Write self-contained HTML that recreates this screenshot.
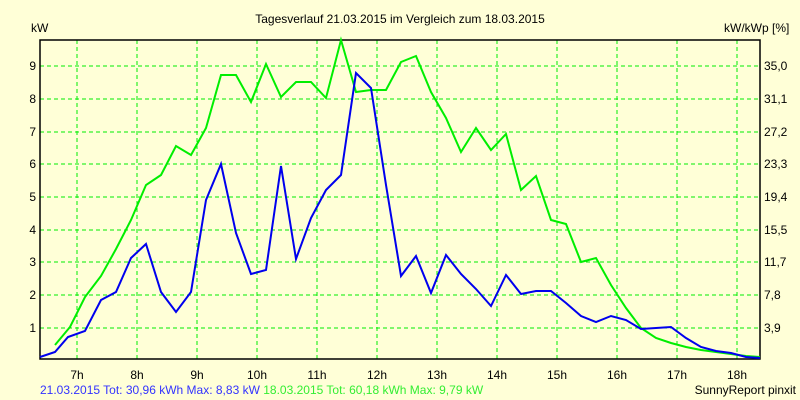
<!DOCTYPE html><html><head><style>body{margin:0;background:#ffffd7}svg{display:block}text{font-family:"Liberation Sans",sans-serif;font-size:12px}</style></head><body>
<svg width="800" height="400" xmlns="http://www.w3.org/2000/svg">
<rect width="800" height="400" fill="#ffffd7"/>
<g stroke="#00ee00" stroke-dasharray="4,3" stroke-width="1">
<line x1="40" x2="760" y1="66" y2="66"/><line x1="40" x2="760" y1="99" y2="99"/><line x1="40" x2="760" y1="132" y2="132"/><line x1="40" x2="760" y1="164" y2="164"/><line x1="40" x2="760" y1="197" y2="197"/><line x1="40" x2="760" y1="230" y2="230"/><line x1="40" x2="760" y1="262" y2="262"/><line x1="40" x2="760" y1="295" y2="295"/><line x1="40" x2="760" y1="328" y2="328"/>
<line y1="40" y2="359" x1="77" x2="77"/><line y1="40" y2="359" x1="137" x2="137"/><line y1="40" y2="359" x1="197" x2="197"/><line y1="40" y2="359" x1="257" x2="257"/><line y1="40" y2="359" x1="317" x2="317"/><line y1="40" y2="359" x1="377" x2="377"/><line y1="40" y2="359" x1="437" x2="437"/><line y1="40" y2="359" x1="497" x2="497"/><line y1="40" y2="359" x1="557" x2="557"/><line y1="40" y2="359" x1="617" x2="617"/><line y1="40" y2="359" x1="677" x2="677"/><line y1="40" y2="359" x1="737" x2="737"/>
</g>
<rect x="40" y="40" width="720" height="319" fill="none" stroke="#000" stroke-width="1.5"/>
<polyline fill="none" stroke="#00ee00" stroke-width="2" points="55,345 70,327 85,297 101,276 116,249 131,220 146,185 161,175 176,146 191,155 206,128 221,75 236,75 251,102 266,64 281,97 296,82 311,82 326,98 341,40 356,92 371,90 386,90 401,62 416,56 431,92 446,118 461,152 476,128 491,150 506,134 521,190 536,176 551,220 566,224 581,262 596,258 611,285 626,308 641,328 656,338 671,343 686,347 701,350 716,352 731,354 746,356 760,357"/>
<polyline fill="none" stroke="#0000ee" stroke-width="2" points="40,357 55,352 68,337 85,331 101,300 116,292 131,258 146,244 161,292 176,312 191,292 206,200 221,164 236,233 251,274 266,270 281,166 296,259 311,218 326,190 341,175 356,73 371,88 386,185 401,276 416,256 431,293 446,255 461,274 476,289 491,306 506,275 521,294 536,291 551,291 566,303 581,316 596,322 611,316 626,320 641,329 656,328 671,327 686,338 701,347 716,351 731,353 746,357 760,358"/>
<g fill="#000" text-anchor="end"><text x="36" y="70">9</text><text x="36" y="103">8</text><text x="36" y="136">7</text><text x="36" y="168">6</text><text x="36" y="201">5</text><text x="36" y="234">4</text><text x="36" y="266">3</text><text x="36" y="299">2</text><text x="36" y="332">1</text></g>
<g fill="#000"><text x="764" y="70">35,0</text><text x="764" y="103">31,1</text><text x="764" y="136">27,2</text><text x="764" y="168">23,3</text><text x="764" y="201">19,4</text><text x="764" y="234">15,5</text><text x="764" y="266">11,7</text><text x="764" y="299">7,8</text><text x="764" y="332">3,9</text></g>
<g fill="#000" text-anchor="middle"><text x="77" y="379">7h</text><text x="137" y="379">8h</text><text x="197" y="379">9h</text><text x="257" y="379">10h</text><text x="317" y="379">11h</text><text x="377" y="379">12h</text><text x="437" y="379">13h</text><text x="497" y="379">14h</text><text x="557" y="379">15h</text><text x="617" y="379">16h</text><text x="677" y="379">17h</text><text x="737" y="379">18h</text></g>
<text x="31" y="32" fill="#000">kW</text>
<text x="724" y="32" fill="#000">kW/kWp [%]</text>
<text x="400" y="23" fill="#000" text-anchor="middle">Tagesverlauf 21.03.2015 im Vergleich zum 18.03.2015</text>
<text x="40" y="394" fill="#3333ff" font-size="11">21.03.2015 Tot: 30,96 kWh Max: 8,83 kW <tspan fill="#33ee33">18.03.2015 Tot: 60,18 kWh Max: 9,79 kW</tspan></text>
<text x="796" y="394" fill="#000" font-size="11" text-anchor="end">SunnyReport pinxit</text>
</svg></body></html>
